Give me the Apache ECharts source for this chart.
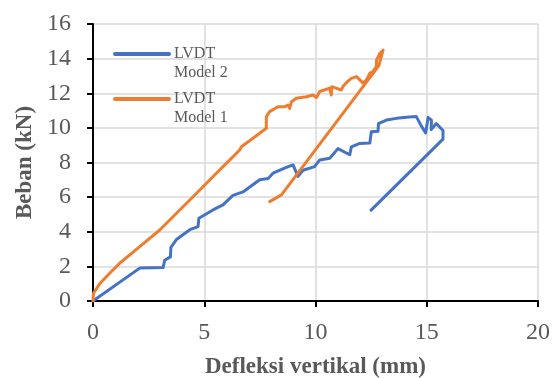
<!DOCTYPE html>
<html>
<head>
<meta charset="utf-8">
<script src="https://cdn.jsdelivr.net/npm/echarts@6/dist/echarts.min.js"></script>
<style>
  html, body { margin: 0; padding: 0; background: #fff; }
  #chart { width: 553px; height: 378px; }
</style>
</head>
<body>
<div id="chart"></div>
<script>
// LVDT Model 2 (blue)
const model2X = [0, 2.1, 3.15, 3.22, 3.48, 3.5, 3.75, 4.35, 4.72, 4.76, 5.39, 5.84, 6.29, 6.74, 7.49, 7.87, 8.09, 8.69, 8.99, 9.07, 9.21, 9.44, 9.96, 10.19, 10.64, 11.01, 11.54, 11.61, 11.99, 12.44, 12.51, 12.81, 12.83, 13.19, 13.64, 14.09, 14.53, 14.76, 14.95, 15.06, 15.21, 15.2, 15.43, 15.73, 15.73, 12.5];
const model2Y = [0, 1.9, 1.93, 2.35, 2.55, 3.1, 3.55, 4.12, 4.3, 4.78, 5.26, 5.55, 6.1, 6.3, 7.0, 7.08, 7.38, 7.72, 7.86, 7.9, 7.2, 7.55, 7.76, 8.15, 8.24, 8.8, 8.45, 8.9, 9.1, 9.12, 9.78, 9.8, 10.25, 10.45, 10.55, 10.62, 10.65, 10.1, 9.7, 10.6, 10.45, 9.9, 10.25, 9.85, 9.35, 5.25];

// LVDT Model 1 (orange)
const model1X = [0, 0.02, 0.3, 0.75, 1.2, 2.1, 3.0, 3.9, 4.8, 5.69, 6.22, 6.59, 6.67, 7.19, 7.79, 7.79, 7.94, 8.31, 8.62, 8.76, 8.84, 8.92, 9.14, 9.59, 9.89, 10.04, 10.19, 10.64, 10.71, 10.73, 11.16, 11.24, 11.46, 11.61, 11.84, 12.13, 12.29, 12.44, 12.58, 12.74, 12.74, 12.89, 13.04, 12.85, 8.47, 7.94];
const model1Y = [0, 0.44, 1.0, 1.6, 2.18, 3.14, 4.1, 5.26, 6.41, 7.57, 8.24, 8.72, 8.91, 9.4, 9.98, 10.65, 10.94, 11.22, 11.22, 11.32, 11.13, 11.51, 11.71, 11.8, 11.9, 11.75, 12.1, 12.29, 11.9, 12.38, 12.19, 12.4, 12.7, 12.86, 12.96, 12.6, 12.77, 13.15, 13.25, 13.55, 13.9, 14.3, 14.5, 13.6, 6.13, 5.74];

const seriesNames = ['LVDT Model 2', 'LVDT Model 1'];
const seriesColors = ['#4472C4', '#ED7D31'];

const xTitle = 'Defleksi vertikal (mm)';
const yTitle = 'Beban (kN)';

const zip = (xs, ys) => xs.map((x, i) => [x, ys[i]]);

const font = '"Liberation Serif", "Times New Roman", serif';
const chart = echarts.init(document.getElementById('chart'));

const options = {
    animation: false,
    textStyle: { fontFamily: font },
    grid: { left: 93, right: 15, top: 24, bottom: 77, containLabel: false, outerBoundsMode: 'none' },
    legend: {
        orient: 'vertical',
        left: 113,
        top: 27,
        padding: 0,
        itemGap: -9,
        itemWidth: 54,
        itemHeight: 14,
        itemStyle: { opacity: 0 },
        lineStyle: { width: 4 },
        // spacer line on top so the first text line sits level with the icon
        formatter: name => {
            const parts = name.split(' ');
            return '{s| }\n{t|' + parts[0] + '}\n{t|' + parts.slice(1).join(' ') + '}';
        },
        textStyle: {
            fontFamily: font,
            fontSize: 16,
            color: '#595959',
            rich: {
                s: { fontSize: 16, lineHeight: 19 },
                t: { fontFamily: font, fontSize: 16, color: '#595959', lineHeight: 19 }
            }
        },
        data: seriesNames
    },
    xAxis: {
        type: 'value',
        min: 0,
        max: 20,
        interval: 5,
        name: xTitle,
        nameLocation: 'middle',
        nameGap: 55,
        nameTextStyle: { fontFamily: font, fontSize: 23, fontWeight: 'bold', color: '#595959' },
        axisLine: { lineStyle: { color: '#000', width: 2 } },
        axisTick: { show: true, inside: false, length: 6, lineStyle: { color: '#000', width: 2 } },
        axisLabel: { fontFamily: font, fontSize: 24, color: '#595959', margin: 20 },
        splitLine: { show: true, lineStyle: { color: '#d9d9d9', width: 1.5 } }
    },
    yAxis: {
        type: 'value',
        min: 0,
        max: 16,
        interval: 2,
        name: yTitle,
        nameLocation: 'middle',
        nameGap: 56,
        nameTextStyle: { fontFamily: font, fontSize: 23, fontWeight: 'bold', color: '#595959' },
        axisLine: { show: true, lineStyle: { color: '#000', width: 2 } },
        axisTick: { show: true, inside: false, length: 6, lineStyle: { color: '#000', width: 2 } },
        axisLabel: { fontFamily: font, fontSize: 24, color: '#595959', margin: 22 },
        splitLine: { show: true, lineStyle: { color: '#d9d9d9', width: 1.5 } }
    },
    series: [
        {
            name: seriesNames[0],
            type: 'line',
            showSymbol: false,
            symbol: 'none',
            color: seriesColors[0],
            lineStyle: { width: 3, color: seriesColors[0], cap: 'round', join: 'round' },
            data: zip(model2X, model2Y)
        },
        {
            name: seriesNames[1],
            type: 'line',
            showSymbol: false,
            symbol: 'none',
            color: seriesColors[1],
            lineStyle: { width: 3, color: seriesColors[1], cap: 'round', join: 'round' },
            data: zip(model1X, model1Y)
        }
    ]
};

chart.setOption(options);
</script>
</body>
</html>
